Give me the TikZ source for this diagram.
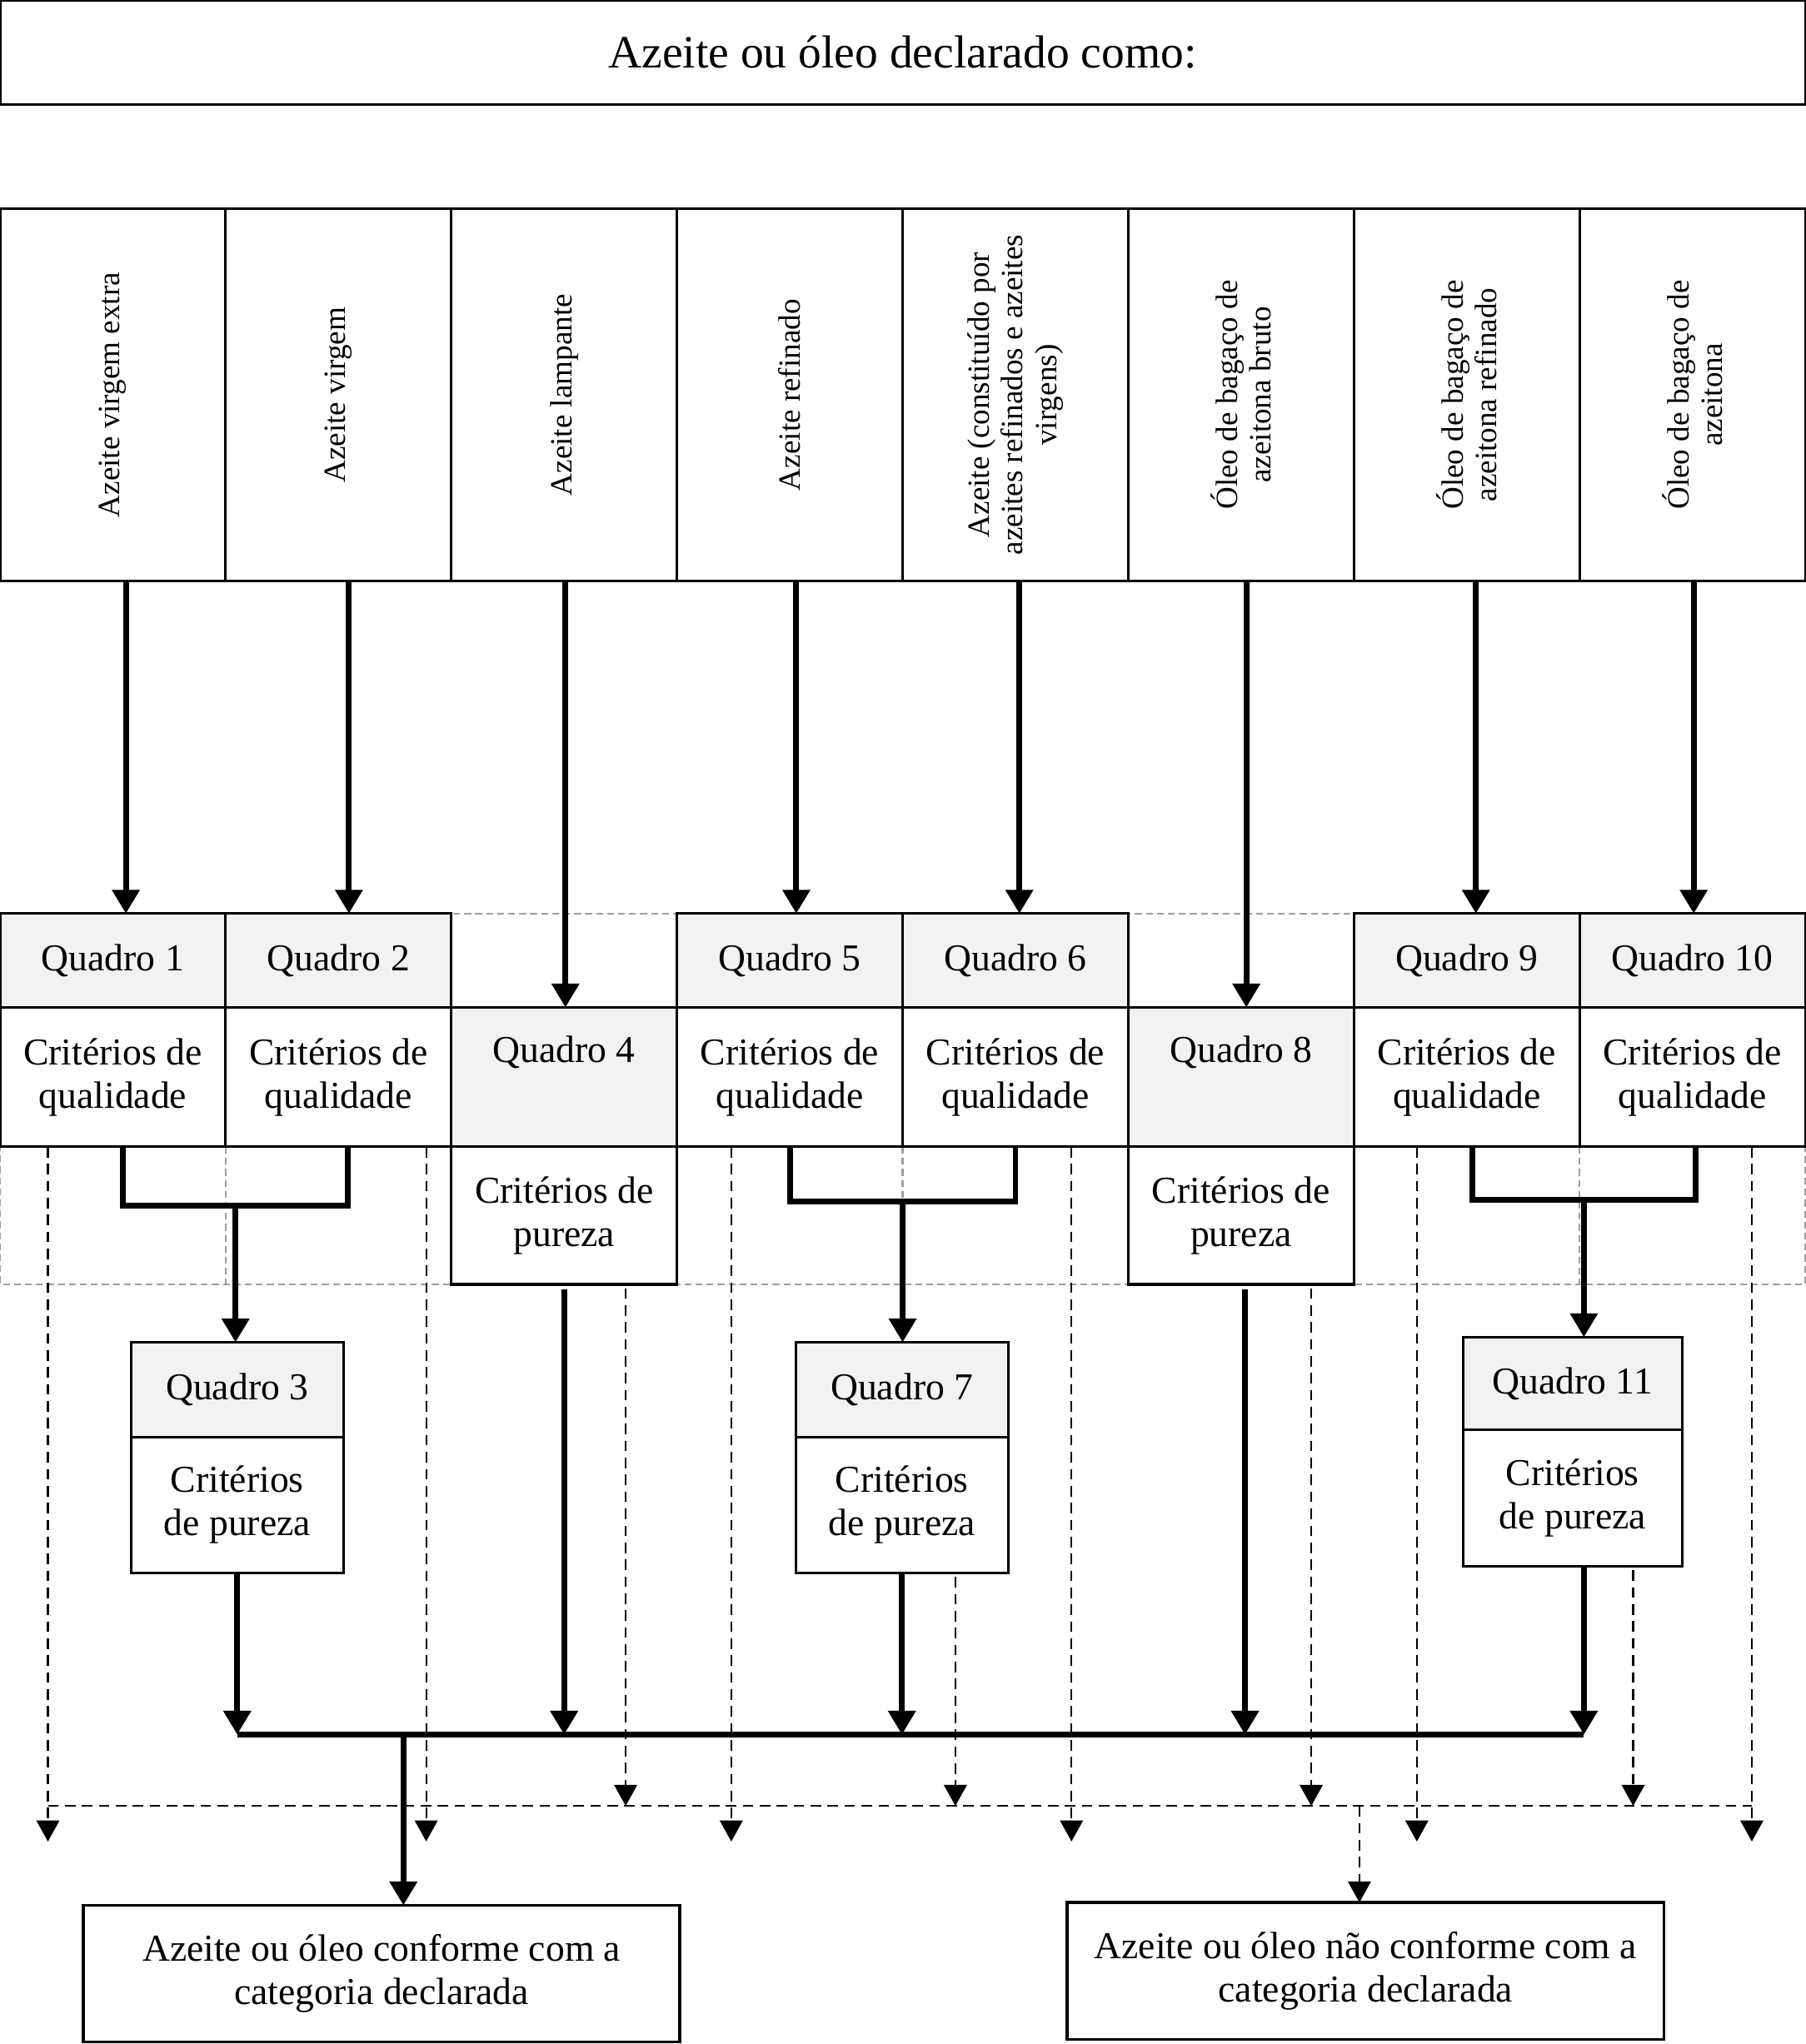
\documentclass[tikz,border=0pt]{standalone}
\usepackage{fontspec}
\setmainfont{Liberation Serif}
\usetikzlibrary{arrows.meta}

\definecolor{boxgray}{HTML}{F2F2F2}

\begin{document}
\begin{tikzpicture}[
  qbox/.style={draw=black,line width=0.55pt,inner sep=0pt,outer sep=0pt,align=center,font=\fontsize{8.3}{9.4}\selectfont},
  graybox/.style={qbox,fill=boxgray},
  colbox/.style={qbox,minimum width=1.7313cm},
  catbox/.style={draw=black,line width=0.55pt,minimum width=1.7313cm,minimum height=2.86cm,inner sep=0pt,outer sep=0pt},
  cattext/.style={rotate=90,align=center,font=\fontsize{6.75}{7.4}\selectfont},
  flow/.style={line width=1.27pt},
  arr/.style={flow,-{Triangle[width=5.8pt,length=5.2pt]}},
  failline/.style={line width=0.4pt,dash pattern=on 2.3pt off 1.4pt},
  fail/.style={failline,-{Triangle[width=5pt,length=4.6pt]}},
  guide/.style={draw=black!38,line width=0.4pt,dash pattern=on 1.5pt off 0.9pt},
]
\useasboundingbox (0,0) rectangle (13.85,-15.684);

% dashed frame behind the Quadro rows
\draw[guide] (0,-7.01) rectangle (13.85,-9.855);
\foreach \k in {1,...,7}
  \draw[guide] ({\k*1.7313},-8.80) -- ({\k*1.7313},-9.855);

\node[qbox,minimum width=13.85cm,minimum height=0.80cm,font=\fontsize{10.1}{12}\selectfont] (title) at (6.925,-0.40) {Azeite ou óleo declarado como:};

% declared categories
\foreach \i/\txt in {1/{Azeite virgem extra},2/{Azeite virgem},3/{Azeite lampante},4/{Azeite refinado},
    5/{Azeite (constituído por\\azeites refinados e azeites\\virgens)},6/{Óleo de bagaço de\\azeitona bruto},
    7/{Óleo de bagaço de\\azeitona refinado},8/{Óleo de bagaço de\\azeitona}}{
  \node[catbox] (cat\i) at ({(\i-0.5)*1.7313},-3.03) {};
  \node[cattext] at (cat\i) {\txt};
}

% quality tables
\foreach \c/\q in {1/1,2/2,4/5,5/6,7/9,8/10}{
  \node[graybox,colbox,minimum height=0.72cm] (q\q) at ({(\c-0.5)*1.7313},-7.37) {Quadro \q};
  \node[colbox,minimum height=1.07cm] (qc\q) at ({(\c-0.5)*1.7313},-8.265) {Critérios de\\qualidade};
}
\foreach \c/\q in {3/4,6/8}{
  \node[graybox,colbox,minimum height=1.07cm] (q\q) at ({(\c-0.5)*1.7313},-8.265) {Quadro \q\\\strut};
  \node[colbox,minimum height=1.055cm] (pz\q) at ({(\c-0.5)*1.7313},-9.3275) {Critérios de\\pureza};
}

% purity tables
\foreach \q/\x/\w in {3/1.82/1.632,7/6.92/1.632}{
  \node[graybox,minimum width=\w cm,minimum height=0.725cm] (q\q) at (\x,-10.6625) {Quadro \q};
  \node[qbox,minimum width=\w cm,minimum height=1.045cm] (pz\q) at (\x,-11.5475) {Critérios\\de pureza};
}
\node[graybox,minimum width=1.679cm,minimum height=0.71cm] (q11) at (12.065,-10.615) {Quadro 11};
\node[qbox,minimum width=1.679cm,minimum height=1.05cm] (pz11) at (12.065,-11.495) {Critérios\\de pureza};

% results
\node[qbox,line width=0.6pt,minimum width=4.576cm,minimum height=1.05cm] (ok) at (2.928,-15.145)
  {Azeite ou óleo conforme com a\\categoria declarada};
\node[qbox,line width=0.6pt,minimum width=4.579cm,minimum height=1.052cm] (nok) at (10.4775,-15.124)
  {Azeite ou óleo não conforme com a\\categoria declarada};

% category -> table
\foreach \c/\q/\s in {1/1/1.0,2/2/0.8,3/4/0.1,4/5/0.5,5/6/0.3,6/8/0.4,7/9/0.7,8/10/0.1}
  \draw[arr] ([xshift=\s mm]cat\c.south) -- ([xshift=\s mm]q\q.north);

% brackets to the purity tables
\coordinate (b1) at (1.807,-9.25);
\coordinate (b2) at (6.925,-9.22);
\coordinate (b3) at (12.152,-9.205);
\draw[flow] ([xshift=0.8mm]qc1.south) |- (b1) -| ([xshift=0.7mm]qc2.south);
\draw[flow] (qc5.south) |- (b2) -| (qc6.south);
\draw[flow] ([xshift=0.4mm]qc9.south) |- (b3) -| ([xshift=0.26mm]qc10.south);
\draw[arr] (b1) -- (b1 |- q3.north);
\draw[arr] (b2) -- (b2 |- q7.north);
\draw[arr] (b3) -- (b3 |- q11.north);

% conforming path
\coordinate (mainy) at (0,-13.31);
\coordinate (okdrop) at (3.095,-13.31);
\draw[arr] (pz3.south) -- (pz3.south |- mainy);
\draw[arr] ([yshift=-0.4mm]pz4.south) -- (pz4.south |- mainy);
\draw[arr] (pz7.south) -- (pz7.south |- mainy);
\draw[arr] ([xshift=0.3mm,yshift=-0.4mm]pz8.south) -- ([xshift=0.3mm]pz8.south |- mainy);
\draw[arr] (b3 |- pz11.south) -- (b3 |- mainy);
\draw[flow,line cap=square] (pz3.south |- mainy) -- (b3 |- mainy);
\draw[arr] (okdrop) -- (okdrop |- ok.north);

% non-conforming path
\coordinate (faily) at (0,-13.857);
\coordinate (failtip) at (0,-14.13);
\coordinate (nokdrop) at (10.43,-13.857);
\foreach \n/\s in {qc1/-4.98,qc2/6.73,qc5/-4.49,qc6/4.3,qc9/-3.83,qc10/4.56}
  \draw[fail] ([xshift=\s mm]\n.south) -- ([xshift=\s mm]\n.south |- failtip);
\foreach \n/\s in {pz4/4.72,pz7/4.1,pz8/5.38,pz11/4.65}
  \draw[fail] ([xshift=\s mm,yshift=-0.3mm]\n.south) -- ([xshift=\s mm]\n.south |- faily);
\draw[failline] ([xshift=-4.98mm]qc1.south |- faily) -- ([xshift=4.56mm]qc10.south |- faily);
\draw[fail] (nokdrop) -- (nokdrop |- nok.north);
\end{tikzpicture}
\end{document}
